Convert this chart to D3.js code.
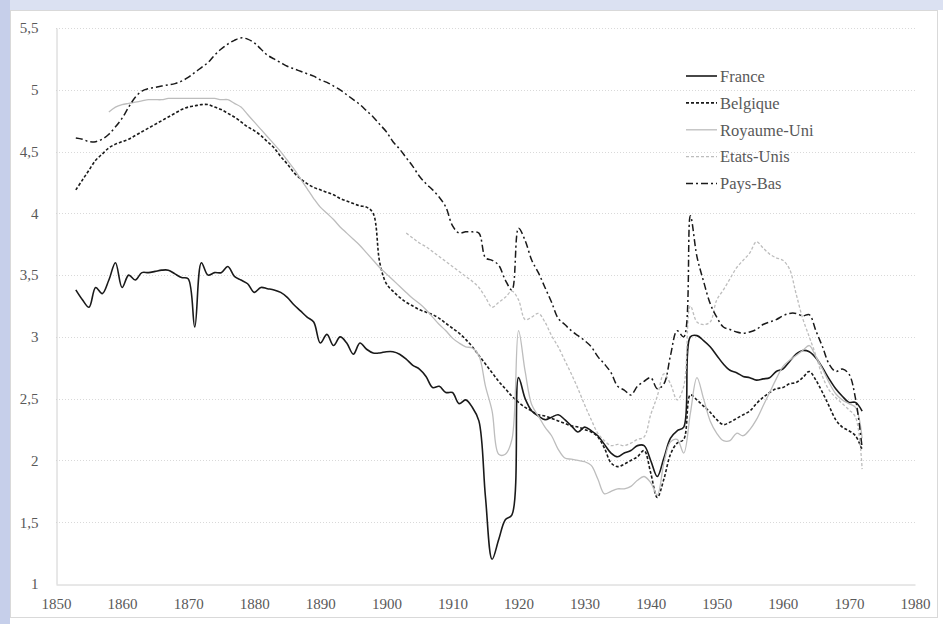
<!DOCTYPE html>
<html>
<head>
<meta charset="utf-8">
<script src="https://cdn.jsdelivr.net/npm/d3@7"></script>
<style>
  body { margin: 0; background: #fff; }
  svg { display: block; }
  .tick text { font-family: "Liberation Serif", "Times New Roman", serif; font-size: 15px; fill: #595959; }
  .legend-text { font-family: "Liberation Serif", "Times New Roman", serif; font-size: 16.5px; fill: #595959; }
</style>
</head>
<body>
<div class="canvas-container"></div>
<script>
// values, one per year
const franceStart = 1853
const franceValues = [
  3.38, 3.30, 3.24, 3.40, 3.35, 3.46, 3.60, 3.40, 3.50, 3.46,
  3.52, 3.52, 3.53, 3.54, 3.54, 3.51, 3.48, 3.47, 3.08, 3.60,
  3.50, 3.52, 3.52, 3.57, 3.49, 3.46, 3.43, 3.36, 3.40, 3.39,
  3.38, 3.36, 3.32, 3.26, 3.21, 3.16, 3.12, 2.95, 3.02, 2.93,
  3.00, 2.95, 2.86, 2.95, 2.90, 2.87, 2.87, 2.88, 2.88, 2.86,
  2.82, 2.77, 2.74, 2.68, 2.59, 2.60, 2.55, 2.55, 2.46, 2.49,
  2.43, 2.32, 1.70, 1.20, 1.36, 1.52, 1.56, 2.67, 2.50, 2.40,
  2.36, 2.33, 2.35, 2.37, 2.33, 2.28, 2.23, 2.27, 2.24, 2.20,
  2.13, 2.06, 2.03, 2.06, 2.08, 2.12, 2.12, 2.00, 1.87, 2.02,
  2.18, 2.24, 2.27, 3.00, 3.01, 2.97, 2.92, 2.85, 2.78, 2.73,
  2.71, 2.68, 2.67, 2.65, 2.66, 2.67, 2.72, 2.74, 2.80, 2.86,
  2.89, 2.88, 2.83, 2.75, 2.66, 2.58, 2.52, 2.47, 2.47, 2.40
]

const belgiqueStart = 1853
const belgiqueValues = [
  4.19, 4.27, 4.35, 4.43, 4.48, 4.53, 4.56, 4.58, 4.60, 4.63,
  4.66, 4.69, 4.72, 4.75, 4.78, 4.81, 4.84, 4.86, 4.87, 4.88,
  4.88, 4.86, 4.84, 4.81, 4.78, 4.74, 4.70, 4.67, 4.63, 4.58,
  4.53, 4.46, 4.40, 4.33, 4.28, 4.24, 4.21, 4.19, 4.17, 4.15,
  4.12, 4.10, 4.08, 4.06, 4.05, 4.00, 3.60, 3.43, 3.37, 3.32,
  3.28, 3.25, 3.22, 3.20, 3.18, 3.15, 3.11, 3.07, 3.03, 2.98,
  2.92, 2.85, 2.78, 2.71, 2.64, 2.58, 2.52, 2.47, 2.43, 2.40,
  2.37, 2.36, 2.34, 2.32, 2.30, 2.28, 2.27, 2.25, 2.23, 2.19,
  2.10, 1.98, 1.95, 1.97, 2.00, 2.03, 2.08, 1.90, 1.70, 1.85,
  2.05, 2.14, 2.17, 2.53, 2.49, 2.44, 2.39, 2.33, 2.29, 2.31,
  2.34, 2.37, 2.40, 2.46, 2.51, 2.55, 2.58, 2.59, 2.62, 2.63,
  2.67, 2.72, 2.65, 2.55, 2.44, 2.33, 2.27, 2.24, 2.20, 2.08
]

const royaumeUniStart = 1858
const royaumeUniValues = [
  4.82, 4.86, 4.88, 4.89, 4.90, 4.91, 4.92, 4.92, 4.92, 4.93,
  4.93, 4.93, 4.93, 4.93, 4.93, 4.93, 4.93, 4.92, 4.92, 4.89,
  4.86, 4.80, 4.74, 4.68, 4.62, 4.56, 4.50, 4.43, 4.36, 4.28,
  4.20, 4.12, 4.05, 4.00, 3.95, 3.89, 3.84, 3.79, 3.74, 3.68,
  3.62, 3.56, 3.51, 3.46, 3.41, 3.36, 3.31, 3.27, 3.22, 3.16,
  3.10, 3.05, 2.99, 2.95, 2.92, 2.91, 2.85, 2.60, 2.40, 2.05,
  2.05, 2.17, 3.05, 2.72, 2.45, 2.36, 2.27, 2.20, 2.09, 2.02,
  2.01, 2.00, 1.99, 1.96, 1.85, 1.73, 1.75, 1.77, 1.77, 1.79,
  1.84, 1.87, 1.82, 1.72, 1.98, 2.15, 2.17, 2.06, 2.38, 2.67,
  2.50, 2.32, 2.22, 2.16, 2.16, 2.22, 2.20, 2.25, 2.33, 2.44,
  2.55, 2.66, 2.76, 2.81, 2.85, 2.89, 2.93, 2.84, 2.74, 2.63,
  2.54, 2.49, 2.46, 2.43, 2.18
]

const etatsUnisStart = 1903
const etatsUnisValues = [
  3.84, 3.80, 3.76, 3.73, 3.69, 3.65, 3.61, 3.57, 3.53, 3.49,
  3.45, 3.40, 3.32, 3.24, 3.28, 3.32, 3.37, 3.30, 3.14, 3.16,
  3.19, 3.12, 3.01, 2.92, 2.81, 2.70, 2.58, 2.45, 2.33, 2.22,
  2.16, 2.12, 2.13, 2.12, 2.14, 2.17, 2.19, 2.37, 2.52, 2.70,
  2.62, 2.49, 2.60, 3.25, 3.12, 3.10, 3.12, 3.30, 3.38, 3.47,
  3.56, 3.62, 3.68, 3.77, 3.72, 3.67, 3.64, 3.62, 3.55, 3.35,
  3.15, 3.00, 2.85, 2.68, 2.57, 2.51, 2.46, 2.41, 2.35, 1.93
]

const paysBasStart = 1853
const paysBasValues = [
  4.61, 4.60, 4.58, 4.58, 4.60, 4.64, 4.70, 4.77, 4.86, 4.94,
  4.99, 5.01, 5.02, 5.03, 5.04, 5.05, 5.07, 5.10, 5.14, 5.18,
  5.22, 5.28, 5.33, 5.37, 5.40, 5.42, 5.41, 5.38, 5.33, 5.28,
  5.25, 5.22, 5.19, 5.17, 5.15, 5.13, 5.11, 5.08, 5.06, 5.03,
  5.00, 4.96, 4.92, 4.88, 4.83, 4.78, 4.72, 4.66, 4.58, 4.52,
  4.45, 4.38, 4.30, 4.24, 4.19, 4.13, 4.05, 3.90, 3.84, 3.85,
  3.85, 3.84, 3.64, 3.62, 3.58, 3.46, 3.38, 3.88, 3.78, 3.62,
  3.52, 3.40, 3.28, 3.15, 3.10, 3.05, 3.01, 2.97, 2.92, 2.84,
  2.78, 2.71, 2.60, 2.57, 2.53, 2.60, 2.64, 2.67, 2.58, 2.62,
  2.85, 3.05, 3.00, 3.98, 3.65, 3.45, 3.27, 3.16, 3.08, 3.06,
  3.04, 3.03, 3.04, 3.06, 3.10, 3.12, 3.14, 3.17, 3.19, 3.19,
  3.17, 3.18, 3.05, 2.92, 2.78, 2.72, 2.74, 2.70, 2.50, 2.10
]

const xTicks = [1850, 1860, 1870, 1880, 1890, 1900, 1910, 1920, 1930, 1940, 1950, 1960, 1970, 1980]
const yTicks = [1, 1.5, 2, 2.5, 3, 3.5, 4, 4.5, 5, 5.5]

const series = [
  { name: "France", start: franceStart, values: franceValues, color: "#1a1a1a", width: 1.6, dash: null },
  { name: "Belgique", start: belgiqueStart, values: belgiqueValues, color: "#1a1a1a", width: 1.6, dash: "3,2" },
  { name: "Royaume-Uni", start: royaumeUniStart, values: royaumeUniValues, color: "#bdbdbd", width: 1.3, dash: null },
  { name: "Etats-Unis", start: etatsUnisStart, values: etatsUnisValues, color: "#bdbdbd", width: 1.3, dash: "3,2" },
  { name: "Pays-Bas", start: paysBasStart, values: paysBasValues, color: "#1a1a1a", width: 1.5, dash: "7,3,2,3" },
]

const w = 943
const h = 624

const svg = d3
  .select(".canvas-container")
  .append("svg")
  .attr("width", w)
  .attr("height", h)

// frame round the chart
svg.append("rect").attr("x", 0).attr("y", 0).attr("width", w).attr("height", 10).attr("fill", "#dbe1f2")
svg.append("rect").attr("x", 0).attr("y", 0).attr("width", 10).attr("height", h).attr("fill", "#c6cfea")
svg
  .append("rect")
  .attr("x", 10.5)
  .attr("y", 10.5)
  .attr("width", 927)
  .attr("height", 607)
  .attr("fill", "#fff")
  .attr("stroke", "#d9d9d9")

const xScale = d3.scaleLinear().domain([1850, 1980]).range([56, 915])
const yScale = d3.scaleLinear().domain([1, 5.5]).range([584, 28])

const frFormat = d3.formatLocale({ decimal: ",", thousands: " ", grouping: [3], currency: ["", ""] }).format("~g")

// dotted grid
svg
  .append("g")
  .selectAll("line")
  .data(yTicks.slice(1))
  .enter()
  .append("line")
  .attr("x1", xScale(1850))
  .attr("x2", xScale(1980))
  .attr("y1", (d) => Math.round(yScale(d)) + 0.5)
  .attr("y2", (d) => Math.round(yScale(d)) + 0.5)
  .attr("stroke", "#d9d9d9")
  .attr("stroke-dasharray", "1,2")

const xAxis = svg
  .append("g")
  .attr("transform", `translate(0,${yScale(1) + 0.5})`)
  .call(d3.axisBottom(xScale).tickValues(xTicks).tickSize(0).tickPadding(14).tickFormat(d3.format("d")))
xAxis.select(".domain").attr("stroke", "#d0d0d0")

const yAxis = svg
  .append("g")
  .attr("transform", `translate(${xScale(1850) + 0.5},0)`)
  .call(d3.axisLeft(yScale).tickValues(yTicks).tickSize(0).tickPadding(18).tickFormat(frFormat))
yAxis.select(".domain").attr("stroke", "#d0d0d0")

// lines, smoothed like the source
const line = d3
  .line()
  .x((d) => xScale(d.year))
  .y((d) => yScale(d.value))
  .curve(d3.curveCatmullRom.alpha(0.5))

series.forEach((s) => {
  const pts = s.values.map((v, i) => ({ year: s.start + i, value: v }))
  svg
    .append("path")
    .datum(pts)
    .attr("d", line)
    .attr("fill", "none")
    .attr("stroke", s.color)
    .attr("stroke-width", s.width)
    .attr("stroke-dasharray", s.dash)
    .attr("stroke-linejoin", "round")
})

// legend
const legend = svg.append("g").attr("id", "legend")
series.forEach((s, i) => {
  const y = 76 + i * 26.9
  legend
    .append("line")
    .attr("x1", 686)
    .attr("x2", 717)
    .attr("y1", y)
    .attr("y2", y)
    .attr("stroke", s.color)
    .attr("stroke-width", s.width)
    .attr("stroke-dasharray", s.dash)
  legend
    .append("text")
    .attr("class", "legend-text")
    .attr("x", 720)
    .attr("y", y)
    .attr("dy", "0.35em")
    .text(s.name)
})
</script>
</body>
</html>
